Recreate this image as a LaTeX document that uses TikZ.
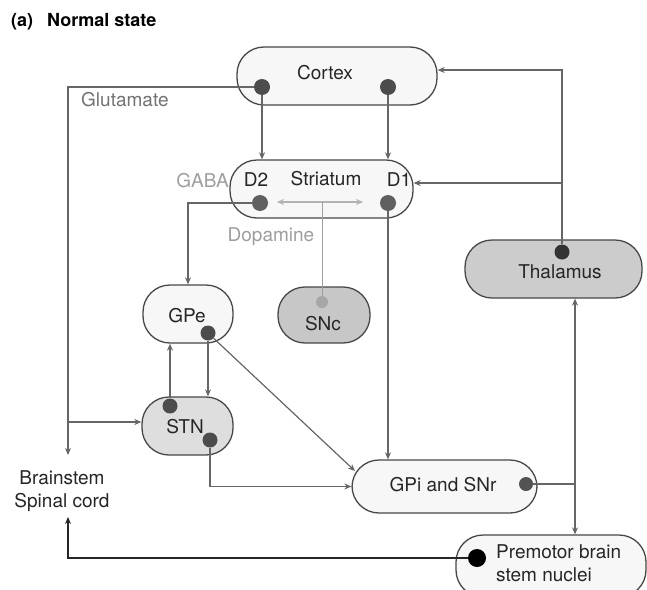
\documentclass[tikz,border=0pt]{standalone}
\usepackage{fontspec}
\setmainfont{TeX Gyre Heros}
\usetikzlibrary{arrows.meta,calc}
\definecolor{boxc}{gray}{0.28}
\definecolor{linec}{gray}{0.4}
\definecolor{dotc}{gray}{0.3}
\definecolor{lightfill}{gray}{0.97}
\definecolor{stnfill}{gray}{0.87}
\definecolor{sncfill}{gray}{0.78}
\definecolor{thalfill}{gray}{0.8}
\definecolor{graytext}{gray}{0.62}
\definecolor{glutc}{gray}{0.45}
\begin{document}
\begin{tikzpicture}[x=1pt,y=-1pt,
  box/.style={draw=boxc, line width=1.3pt, rounded corners=27pt, minimum height=58pt, inner sep=0pt, fill=lightfill},
  lbl/.style={inner sep=0pt, font=\fontsize{19}{23}\selectfont, text=black!85},
  dot/.style={circle, inner sep=0pt, minimum size=16pt, fill=dotc},
  conn/.style={draw=linec, line width=1.2pt},
  arr/.style={-{Stealth[length=7pt,width=6pt]}},
  darr/.style={{Stealth[length=7pt,width=6pt]}-{Stealth[length=7pt,width=6pt]}}]
\useasboundingbox (0,0) rectangle (647,589);
\fill[white] (0,0) rectangle (647,589);

% title
\node[anchor=west, inner sep=0pt, font=\bfseries\fontsize{18}{20}\selectfont] (title) at (11,22) {(a)\hspace{14pt}Normal state};

% boxes
\node[box, minimum width=200pt] (cortex) at (337,76) {};
\node[box, minimum width=183pt] (striatum) at (321.5,189) {};
\node[box, minimum width=90pt] (gpe) at (188,314) {};
\node[box, minimum width=92pt, minimum height=56pt, fill=sncfill] (snc) at (324,315) {};
\node[box, minimum width=91pt, fill=stnfill] (stn) at (187.5,426) {};
\node[box, minimum width=185pt, minimum height=53pt] (gpi) at (444.5,486.5) {};
\node[box, minimum width=177pt, fill=thalfill] (thal) at (553.5,269) {};
\node[box, minimum width=190pt, minimum height=62pt] (prem) at (551,566) {};

% labels
\node[lbl] (cortexl) at (325,73) {Cortex};
\node[lbl] (d2l) at (256,180) {D2};
\node[lbl] (strl) at (326,179) {Striatum};
\node[lbl] (d1l) at (399,180) {D1};
\node[lbl, text=graytext, anchor=east] (gabal) at (229,181) {GABA};
\node[lbl, text=graytext] (dopl) at (271,237) {Dopamine};
\node[lbl, text=glutc, anchor=west] (glul) at (81,100) {Glutamate};
\node[lbl] (gpel) at (187,316) {GPe};
\node[lbl] (sncl) at (323,324) {SNc};
\node[lbl] (stnl) at (185,427) {STN};
\node[lbl] (gpil) at (443,485) {GPi and SNr};
\node[lbl] (thall) at (560,272) {Thalamus};
\node[lbl, align=left, anchor=west] (preml) at (496,563) {Premotor brain\\stem nuclei};
\node[lbl, align=center] (brain) at (62,491) {Brainstem\\Spinal cord};

% dots
\node[dot] (cd1) at (262,87) {};
\node[dot] (cd2) at (388,87) {};
\node[dot, fill=gray!75!black] (sd2) at (260,203) {};
\node[dot, fill=gray!75!black] (sd1) at (388,203) {};
\node[dot, minimum size=15pt] (gped) at (208,333) {};
\node[dot, minimum size=12pt, fill=gray!70] (sncd) at (322,302) {};
\node[dot, minimum size=15pt] (stnd1) at (170,406) {};
\node[dot, minimum size=15pt] (stnd2) at (210,440) {};
\node[dot, minimum size=14pt, fill=gray!65!black] (gpid) at (526,484) {};
\node[dot, minimum size=15pt, fill=black!80] (thald) at (562,252) {};
\node[dot, minimum size=18pt, fill=black] (premd) at (477,558) {};

% coordinates
\coordinate (g1) at (68,87);
\coordinate (g2) at (68,455);
\coordinate (gb) at (68,422);
\coordinate (t1) at (562,70);
\coordinate (t2) at (562,183);
\coordinate (d2c) at (188,203);
\coordinate (da1) at (277,202);
\coordinate (da2) at (363,202);
\coordinate (sncc) at (322,202);
\coordinate (gpiin) at (355,471);
\coordinate (v1) at (575,484);
\coordinate (p1) at (68,558);
\coordinate (p2) at (68,517);

% connectors
\draw[conn, arr] (cd1) -- (g1) -- (g2);
\draw[conn, arr] (gb) -- (gb -| stn.west);
\draw[conn, arr] (cd1) -- (cd1 |- striatum.north);
\draw[conn, arr] (cd2) -- (cd2 |- striatum.north);
\draw[conn, arr] (thald) -- (t1) -- (t1 -| cortex.east);
\draw[conn, arr] (t2) -- (t2 -| striatum.east);
\draw[conn, arr] (sd2) -- (d2c) -- (d2c |- gpe.north);
\draw[conn, arr] (sd1) -- (sd1 |- gpi.north);
\draw[draw=gray!60, line width=1.2pt, darr] (da1) -- (da2);
\draw[draw=gray!75, line width=1pt] (sncd) -- (sncc);
\draw[conn, arr] (gped) -- (gped |- stn.north);
\draw[conn, arr] (stnd1) -- (stnd1 |- gpe.south);
\draw[conn, arr] (gped) -- (gpiin);
\draw[conn, arr] (stnd2) |- (gpi.west);
\draw[conn] (gpid) -- (v1);
\draw[conn, darr] (thal.south -| v1) -- (prem.north -| v1);
\draw[draw=black!85, line width=1.8pt, arr] (premd) -- (p1) -- (p2);
\end{tikzpicture}
\end{document}
